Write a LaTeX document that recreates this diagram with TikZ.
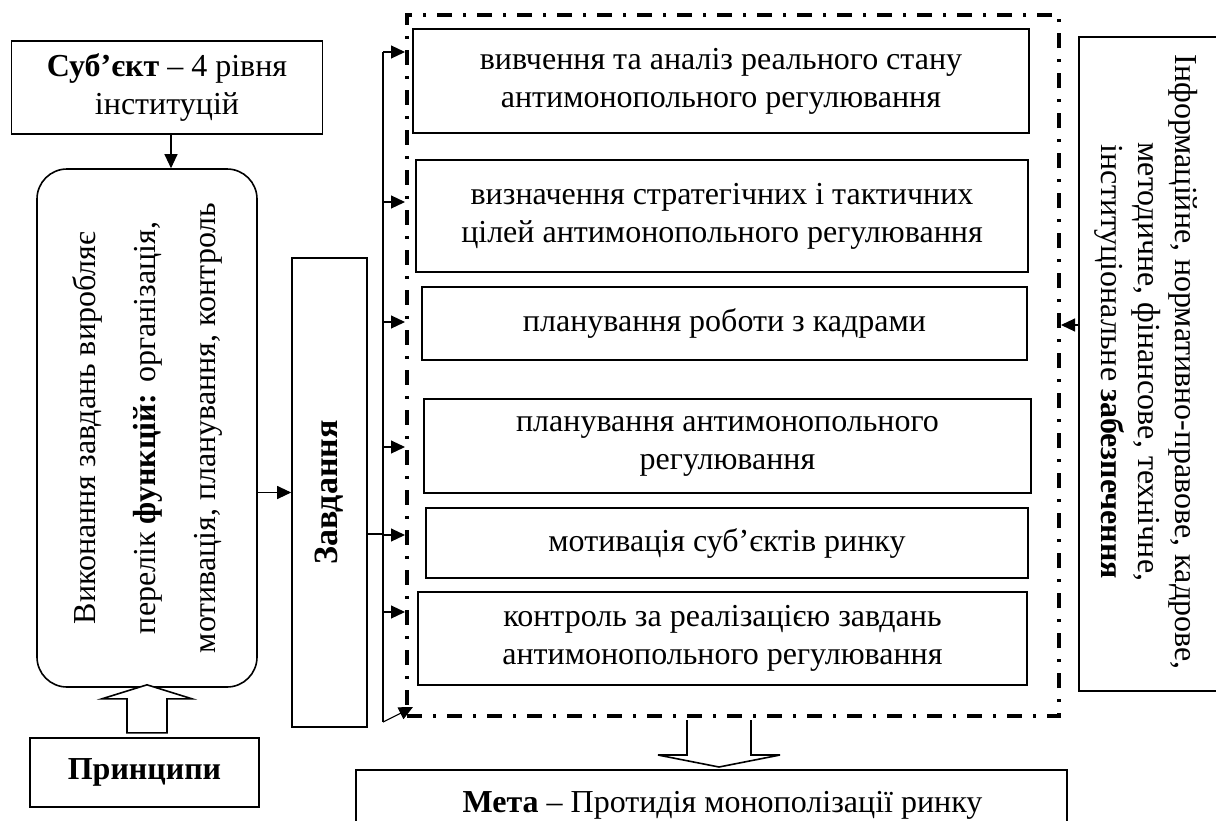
\documentclass[tikz,border=0pt]{standalone}
\usepackage{fontspec}
\setmainfont{Liberation Serif}
\usetikzlibrary{arrows.meta}
\newcommand\myfs{\fontsize{32}{38}\selectfont}
\begin{document}
\begin{tikzpicture}[x=1pt,y=-1pt,
  box/.style={draw, line width=1.6pt, inner sep=0pt, align=center, font=\myfs},
  arr/.style={line width=1.1pt, -{Triangle[length=14pt,width=13pt]}},
  thin/.style={line width=1.1pt},
  hollow/.style={draw, line width=1.6pt, fill=white},
  dashdot/.style={line width=4pt, dash pattern=on 15pt off 11pt on 3pt off 11pt}]
\useasboundingbox (0,0) rectangle (1216,820);
\clip (0,0) rectangle (1216,820);
% left column
\node[box, minimum width=311pt, minimum height=93pt] (subj) at (167,87.5)
  {\textbf{Суб’єкт} – 4 рівня\\інституцій};
\node[box, rounded corners=30pt, rotate=90, minimum width=518pt, minimum height=220pt,
  font=\fontsize{32}{60}\selectfont] (func) at (147,428)
  {Виконання завдань виробляє\\перелік \textbf{функцій:} організація,\\мотивація, планування, контроль};
\node[box, minimum width=229pt, minimum height=69pt] (prin) at (144.5,772.5) {\textbf{Принципи}};
\node[box, rotate=90, minimum width=469pt, minimum height=75pt, font=\fontsize{34}{38}\selectfont] (zav) at (329.5,492.5) {\textbf{Завдання}};
% dashed frame
\node[dashdot, draw, minimum width=652pt, minimum height=701pt, inner sep=0pt] (frame) at (733,365.5) {};
% tasks
\node[box, minimum width=616pt, minimum height=104pt] (t1) at (721,81)
  {вивчення та аналіз реального стану\\антимонопольного регулювання};
\node[box, minimum width=612pt, minimum height=112pt] (t2) at (722,216)
  {визначення стратегічних і тактичних\\цілей антимонопольного регулювання};
\node[box, minimum width=605pt, minimum height=73pt] (t3) at (724.5,323.5)
  {планування роботи з кадрами};
\node[box, minimum width=607pt, minimum height=94pt] (t4) at (727.5,446)
  {планування антимонопольного\\регулювання};
\node[box, minimum width=602pt, minimum height=70pt] (t5) at (727,543)
  {мотивація суб’єктів ринку};
\node[box, minimum width=609pt, minimum height=93pt] (t6) at (722.5,638.5)
  {контроль за реалізацією завдань\\антимонопольного регулювання};
% goal
\node[box, minimum width=711pt, minimum height=70pt] (meta) at (711.5,805)
  {\hspace*{22pt}\textbf{Мета} – Протидія монополізації ринку};
% support
\node[font=\fontsize{32}{37}\selectfont, align=center, rotate=-90, inner sep=0pt] (supp) at (1146,362)
  {Інформаційне, нормативно-правове, кадрове,\\методичне, фінансове, технічне,\\інституціональне \textbf{забезпечення}};
\draw[line width=1.6pt] (1230,37) -- (1079,37) coordinate (sA) -- (1079,691) -- (1230,691);
% connectors
\draw[arr] ([xshift=4pt]subj.south) -- ([xshift=4pt]subj.south |- func.east);
\draw[arr] (func.south |- zav.center) -- (zav.north);
\coordinate (bt) at (383,52);
\coordinate (bb) at (383,722);
\draw[thin] (bt) -- (bb);
\draw[thin] ([yshift=-41.5pt]zav.south) -- (bt |- 0,534);
\foreach \y in {52,202,322,447,535,612} {
  \draw[arr] (bt |- 0,\y) -- (frame.west |- 0,\y);
}
\draw[arr] (bb) -- ([xshift=8pt,yshift=11pt]frame.south west);
\draw[arr] (sA |- 0,325) -- (frame.east |- 0,325);
% hollow arrows
\draw[hollow] ([yshift=3pt]func.west) -- ++(45,14) -- ++(-25,0) -- ++(0,34) -- ++(-40,0) -- ++(0,-34) -- ++(-25,0) -- cycle;
\draw[line width=1.6pt, fill=white] ([xshift=-46pt,yshift=-2pt]frame.south) -- ++(0,35) -- ++(-29,0) -- ++(61,12) -- ++(61,-12) -- ++(-29,0) -- ++(0,-35);
\end{tikzpicture}
\end{document}
